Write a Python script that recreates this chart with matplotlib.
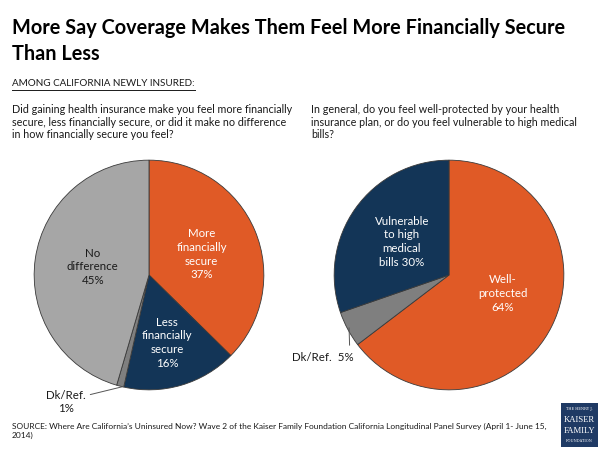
import matplotlib
matplotlib.use("Agg")
import matplotlib.pyplot as plt

plt.rcParams['font.family'] = ['Lato', 'DejaVu Sans']

# left pie: clockwise from 12 o'clock
left_labels = ['More\nfinancially\nsecure\n37%', 'Less\nfinancially\nsecure\n16%', '', 'No\ndifference\n45%']
left_values = [37, 16, 1, 45]
left_colors = ['#E05A26', '#133557', '#7F7F7F', '#A6A6A6']

# right pie
right_labels = ['Well-\nprotected\n64%', '', 'Vulnerable\nto high\nmedical\nbills 30%']
right_values = [64, 5, 30]
right_colors = ['#E05A26', '#7F7F7F', '#133557']

title = 'More Say Coverage Makes Them Feel More Financially Secure\nThan Less'
subtitle = 'AMONG CALIFORNIA NEWLY INSURED:'
q_left = ('Did gaining health insurance make you feel more financially\n'
          'secure, less financially secure, or did it make no difference\n'
          'in how financially secure you feel?')
q_right = ('In general, do you feel well-protected by your health\n'
           'insurance plan, or do you feel vulnerable to high medical\n'
           'bills?')
source = ('SOURCE: Where Are California\u2019s Uninsured Now? Wave 2 of the Kaiser Family Foundation California Longitudinal Panel Survey (April 1- June 15,\n'
          '2014)')

W, H = 600, 450
fig = plt.figure(figsize=(6, 4.5), dpi=100)
renderer = fig.canvas.get_renderer()


def px_axes(x0, y0, w, h):
    # x0, y0 = top-left corner in pixels
    return fig.add_axes([x0 / W, 1 - (y0 + h) / H, w / W, h / H])


def fit_width(t, width_px):
    # scale font so the widest line spans width_px
    bb = t.get_window_extent(renderer)
    t.set_fontsize(t.get_fontsize() * width_px / bb.width)
    return t


t_title = fig.text(12 / W, 1 - 41 / H, title, fontsize=15, fontweight='bold', va='center',
                   color='black', linespacing=1.35)
fit_width(t_title, 553)

t_sub = fig.text(12 / W, 1 - 83 / H, subtitle, fontsize=8, va='center', color='#1a1a1a')
fit_width(t_sub, 183)
fig.add_artist(plt.Line2D([12 / W, 195 / W], [1 - 89.5 / H, 1 - 89.5 / H],
                          color='#1a1a1a', lw=0.7))

t_ql = fig.text(12 / W, 1 - 122 / H, q_left, fontsize=8, va='center', color='#1a1a1a')
fit_width(t_ql, 281)
q_fs = t_ql.get_fontsize()
t_ql.set_linespacing(15 / (q_fs * 100 / 72) / 1.2)
t_qr = fig.text(311 / W, 1 - 122 / H, q_right, fontsize=q_fs, va='center', color='#1a1a1a',
                linespacing=15 / (q_fs * 100 / 72) / 1.2)

t_src = fig.text(12 / W, 1 - 431 / H, source, fontsize=7, va='center', color='#1a1a1a')
fit_width(t_src, 536)
t_src.set_linespacing(14 / (t_src.get_fontsize() * 100 / 72) / 1.2)

wedge_style = dict(edgecolor='#3a3a3a', linewidth=0.6)
lab_fs = 8.3

# left pie
ax1 = px_axes(33, 159, 232, 232)
ax1.pie(left_values, colors=left_colors, startangle=90, counterclock=False,
        wedgeprops=wedge_style, radius=1)
ax1.set_xlim(-1.01, 1.01)
ax1.set_ylim(-1.01, 1.01)
ax1.set_aspect('equal')
ax1.axis('off')
left_pos = [(0.46, 0.18), (0.16, -0.59), None, (-0.49, 0.07)]
for lab, pos, col in zip(left_labels, left_pos, left_colors):
    if pos is None:
        continue
    ax1.text(pos[0], pos[1], lab, ha='center', va='center', fontsize=lab_fs,
             color='white' if col != '#A6A6A6' else '#1a1a1a', linespacing=1.3)
ax1.annotate('Dk/Ref.', xy=(-0.22, -0.97), xytext=(-0.72, -1.045),
             ha='center', va='center', fontsize=lab_fs, color='#1a1a1a',
             annotation_clip=False,
             arrowprops=dict(arrowstyle='-', color='#555555', lw=0.7,
                             relpos=(1.0, 0.45), shrinkA=1, shrinkB=0))
ax1.text(-0.72, -1.16, '1%', ha='center', va='center', fontsize=lab_fs, color='#1a1a1a',
         clip_on=False)

# right pie
ax2 = px_axes(333, 159, 232, 232)
ax2.pie(right_values, colors=right_colors, startangle=90, counterclock=False,
        wedgeprops=wedge_style, radius=1)
ax2.set_xlim(-1.01, 1.01)
ax2.set_ylim(-1.01, 1.01)
ax2.set_aspect('equal')
ax2.axis('off')
right_pos = [(0.47, -0.16), None, (-0.41, 0.29)]
for lab, pos in zip(right_labels, right_pos):
    if pos is None:
        continue
    ax2.text(pos[0], pos[1], lab, ha='center', va='center', fontsize=lab_fs,
             color='white', linespacing=1.3)
ax2.annotate('Dk/Ref.  5%', xy=(-0.87, -0.46), xytext=(-1.1, -0.72),
             ha='center', va='center', fontsize=lab_fs, color='#1a1a1a',
             annotation_clip=False,
             arrowprops=dict(arrowstyle='-', color='#555555', lw=0.7,
                             relpos=(0.94, 1.0), shrinkA=3, shrinkB=0))

# logo
axl = px_axes(561, 403, 37, 44)
axl.set_facecolor('#1F3A64')
axl.set_xticks([])
axl.set_yticks([])
for s in axl.spines.values():
    s.set_visible(False)
axl.text(0.5, 0.86, 'THE HENRY J.', color='white', fontsize=2.6, ha='center', va='center',
         family='DejaVu Serif', transform=axl.transAxes)
axl.text(0.5, 0.62, 'KAISER', color='white', fontsize=6.2, ha='center', va='center',
         family='Liberation Serif', transform=axl.transAxes)
axl.text(0.5, 0.37, 'FAMILY', color='white', fontsize=6.2, ha='center', va='center',
         family='Liberation Serif', transform=axl.transAxes)
axl.text(0.5, 0.13, 'FOUNDATION', color='white', fontsize=2.6, ha='center', va='center',
         family='DejaVu Serif', transform=axl.transAxes)

fig.savefig('out.png', dpi=100)
